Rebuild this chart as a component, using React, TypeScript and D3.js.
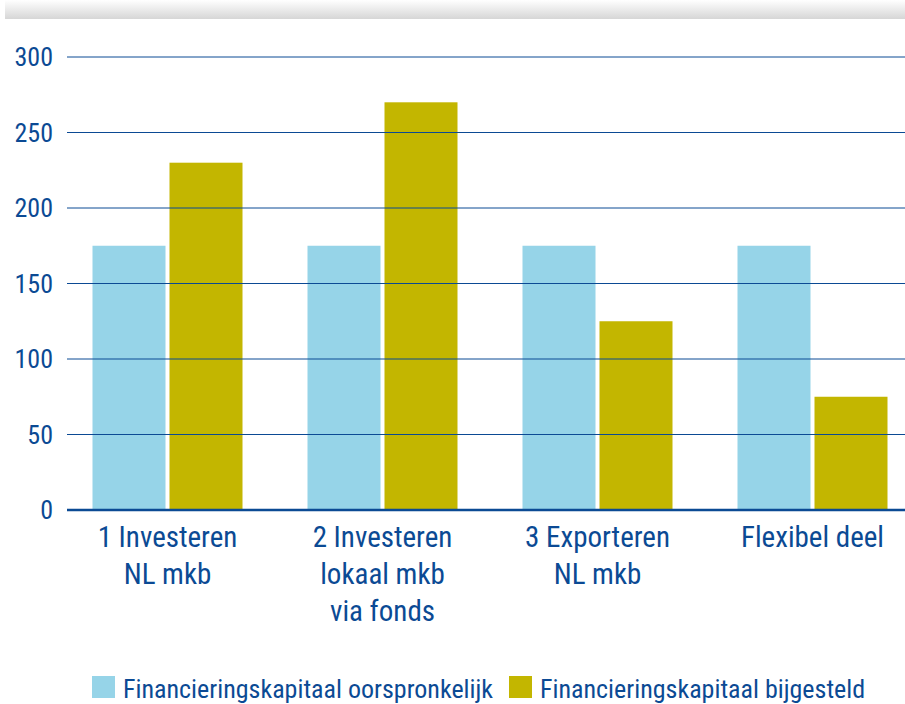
import React from "react";
import * as d3 from "d3";

const categories: string[][] = [
  ["1 Investeren", "NL mkb"],
  ["2 Investeren", "lokaal mkb", "via fonds"],
  ["3 Exporteren", "NL mkb"],
  ["Flexibel deel"],
];
const seriesNames = ["Financieringskapitaal oorspronkelijk", "Financieringskapitaal bijgesteld"];
const oorspronkelijk = [175, 175, 175, 175];
const bijgesteld = [230, 270, 125, 75];
const yTicks = [0, 50, 100, 150, 200, 250, 300];

const W = 905;
const H = 704;
const BLUE = "#96d4e8";
const GOLD = "#c3b600";
const TEXT = "#0b4a94";
const FONT = "'Liberation Sans Narrow', 'Roboto Condensed', 'Open Sans', sans-serif";

export default function App() {
  const y = d3.scaleLinear().domain([0, 300]).range([510, 57]);
  const x0 = d3
    .scaleBand<number>()
    .domain(categories.map((_, i) => i))
    .range([60, 920])
    .paddingInner(65 / 215)
    .paddingOuter(65 / 430);
  const x1 = d3
    .scaleBand<number>()
    .domain([0, 1])
    .range([0, x0.bandwidth()])
    .paddingInner(4 / 77)
    .paddingOuter(0);
  const series = [oorspronkelijk, bijgesteld];
  const colors = [BLUE, GOLD];
  const legendX = [92, 509];

  return (
    <svg
      width={W}
      height={H}
      style={{ position: "absolute", left: 0, top: 0, display: "block" }}
      fontFamily={FONT}
    >
      <defs>
        <linearGradient id="topband" x1="0" y1="0" x2="0" y2="1">
          <stop offset="0" stopColor="#ffffff" />
          <stop offset="1" stopColor="#d6d6d6" />
        </linearGradient>
      </defs>
      <rect x={0} y={0} width={W} height={H} fill="#fff" />
      <rect x={5} y={0} width={W - 5} height={19} fill="url(#topband)" />
      {series.map((vals, s) =>
        vals.map((v, i) => (
          <rect
            key={`b${s}-${i}`}
            x={(x0(i) ?? 0) + (x1(s) ?? 0)}
            y={y(v)}
            width={x1.bandwidth()}
            height={y(0) - y(v)}
            fill={colors[s]}
          />
        ))
      )}
      {yTicks.map((t) => (
        <g key={t}>
          <line
            x1={67}
            x2={W}
            y1={y(t)}
            y2={y(t)}
            stroke={TEXT}
            strokeWidth={t === 0 ? 2.5 : 1}
          />
          <text x={53} y={y(t)} dy="0.35em" textAnchor="end" fontSize={26} fill={TEXT}>
            {t}
          </text>
        </g>
      ))}
      {categories.map((lines, i) => (
        <text
          key={`c${i}`}
          x={(x0(i) ?? 0) + x0.bandwidth() / 2}
          textAnchor="middle"
          fontSize={29}
          fill={TEXT}
        >
          {lines.map((l, j) => (
            <tspan key={j} x={(x0(i) ?? 0) + x0.bandwidth() / 2} y={547 + j * 37}>
              {l}
            </tspan>
          ))}
        </text>
      ))}
      {seriesNames.map((n, s) => {
        const lx = legendX[s];
        return (
          <g key={n}>
            <rect x={lx} y={676} width={23} height={22} fill={colors[s]} />
            <text x={lx + 31} y={698} fontSize={26} fill={TEXT}>
              {n}
            </text>
          </g>
        );
      })}
    </svg>
  );
}
